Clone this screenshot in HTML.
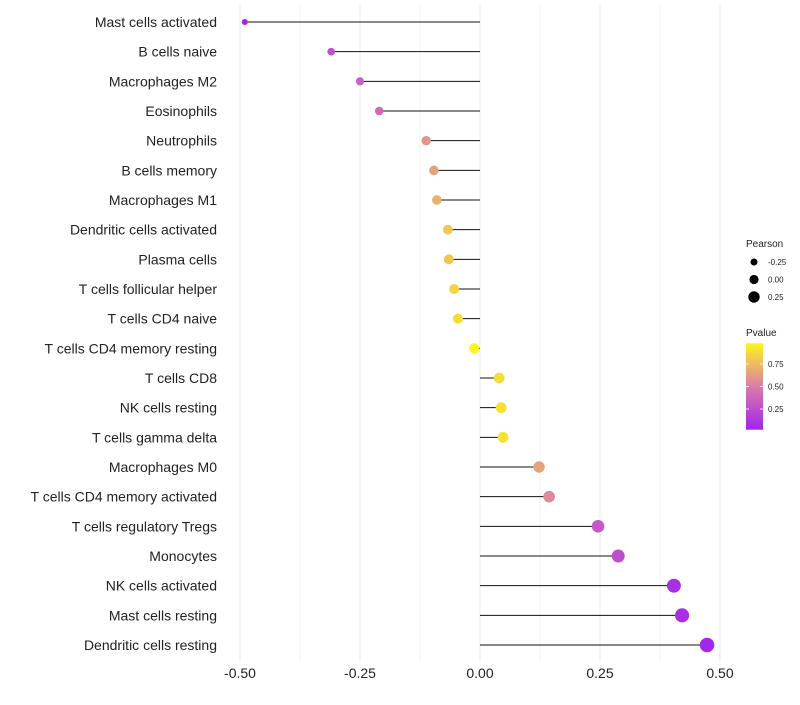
<!DOCTYPE html>
<html><head><meta charset="utf-8"><style>
body{margin:0;background:#fff;font-family:"Liberation Sans",sans-serif}
svg text{font-family:"Liberation Sans",sans-serif}
</style></head><body>
<svg id="chart" width="800" height="700"></svg>
<script>
const categories=["Mast cells activated","B cells naive","Macrophages M2","Eosinophils","Neutrophils","B cells memory","Macrophages M1","Dendritic cells activated","Plasma cells","T cells follicular helper","T cells CD4 naive","T cells CD4 memory resting","T cells CD8","NK cells resting","T cells gamma delta","Macrophages M0","T cells CD4 memory activated","T cells regulatory  Tregs ","Monocytes","NK cells activated","Mast cells resting","Dendritic cells resting"];
const pearson=[-0.49,-0.31,-0.25,-0.21,-0.112,-0.096,-0.09,-0.067,-0.065,-0.054,-0.046,-0.012,0.04,0.044,0.048,0.123,0.144,0.246,0.288,0.404,0.421,0.473];
const pvalue=[0.02,0.25,0.35,0.4,0.6,0.65,0.7,0.8,0.8,0.85,0.88,0.97,0.88,0.9,0.9,0.65,0.55,0.3,0.25,0.08,0.08,0.03];
const xTicks=[-0.5,-0.25,0,0.25,0.5];
const xTickLabels=["-0.50","-0.25","0.00","0.25","0.50"];
const sizeLegend=[-0.25,0,0.25];
const colorLegendTicks=[0.25,0.5,0.75];

const NS="http://www.w3.org/2000/svg";
const svg=document.getElementById('chart');
const xs=v=>480+v*480;
const ys=i=>22+i*(623/21);
const rs=p=>Math.max(1.8,5.2+4.4*p);
const ys2=v=>431.5-v*90;
function col(p){
  const a=[160,32,240],m=[218,125,170],b=[255,250,20];
  let c0,c1,t;
  if(p<0.5){c0=a;c1=m;t=p/0.5;}else{c0=m;c1=b;t=(p-0.5)/0.5;}
  return 'rgb('+c0.map((v,k)=>Math.round(v+(c1[k]-v)*t)).join(',')+')';
}
function mk(tag,attrs,parent){const e=document.createElementNS(NS,tag);for(const k in attrs)e.setAttribute(k,attrs[k]);(parent||svg).appendChild(e);return e;}

// grid
for(let v=-0.5;v<=0.501;v+=0.125){
  const g=mk('line',{x1:xs(v),x2:xs(v),y1:5,y2:662,stroke:'#ebebeb','stroke-width':Math.abs(v*4-Math.round(v*4))<1e-6?1:0.6});
  
  
}
xTicks.forEach((v,i)=>{
  const t=mk('text',{x:xs(v),y:678,'text-anchor':'middle','font-size':14,fill:'#222'});
  t.textContent=xTickLabels[i];
  
  
});
categories.forEach((c,i)=>{
  const y=ys(i);
  const t=mk('text',{x:217,y:y+5,'text-anchor':'end','font-size':14,fill:'#222'});
  t.textContent=c;
  
  
  const l=mk('line',{x1:xs(0),x2:xs(pearson[i]),y1:y,y2:y,stroke:'#111','stroke-width':1});
  
  
  const d=mk('circle',{cx:xs(pearson[i]),cy:y,r:rs(pearson[i]),fill:col(pvalue[i])});
  
  
});
// size legend
let t=mk('text',{x:746,y:247,'font-size':10,fill:'#222'});t.textContent='Pearson';


sizeLegend.forEach((v,i)=>{
  const y=262+i*17.5;
  const c=mk('circle',{cx:754,cy:y,r:rs(v)-0.6,fill:'#000'});
  
  
  const tt=mk('text',{x:768,y:y+3,'font-size':8,fill:'#222'});tt.textContent=v===0?'0.00':v.toFixed(2);
  
  
});
// color legend
t=mk('text',{x:746,y:336,'font-size':10,fill:'#222'});t.textContent='Pvalue';


const defs=mk('defs',{});
const lg=mk('linearGradient',{id:'pg',x1:0,y1:1,x2:0,y2:0},defs);
[0,0.25,0.5,0.75,1].forEach(s=>mk('stop',{offset:s,'stop-color':col(0.02+s*0.96)},lg));
const bar=mk('rect',{x:746,y:ys2(0.98),width:17,height:ys2(0.02)-ys2(0.98),fill:'url(#pg)'});


colorLegendTicks.forEach(v=>{
  const y=ys2(v);
  mk('line',{x1:746,x2:749,y1:y,y2:y,stroke:'#fff','stroke-width':0.8});
  mk('line',{x1:760,x2:763,y1:y,y2:y,stroke:'#fff','stroke-width':0.8});
  const tt=mk('text',{x:768,y:y+3,'font-size':8,fill:'#222'});tt.textContent=v.toFixed(2);
  
  
});
</script>
</body></html>
